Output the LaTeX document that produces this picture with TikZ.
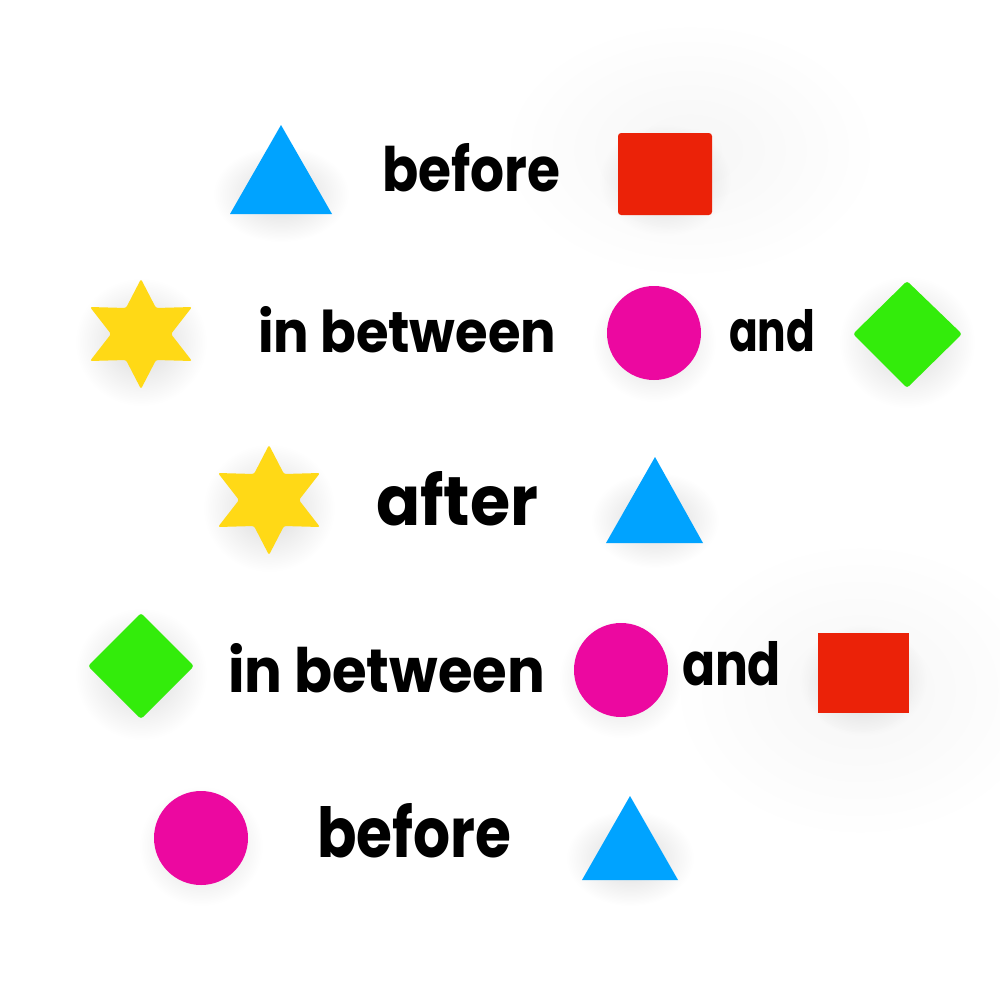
\documentclass[tikz,border=0pt]{standalone}
\usepackage{fontspec}
\usepackage{graphicx}
\setmainfont{Poppins}
\usetikzlibrary{fadings}
\definecolor{cblue}{RGB}{0,163,255}
\definecolor{cred}{RGB}{235,34,8}
\definecolor{cpink}{RGB}{236,8,160}
\definecolor{cyellow}{RGB}{255,217,22}
\definecolor{cgreen}{RGB}{51,236,11}
\tikzfading[name=softfade, inner color=transparent!0, outer color=transparent!100]
\newcommand\fitwh[3]{\resizebox{#1}{#2}{#3}}
\newcommand\sixstar[3]{% cx cy colour
  \fill[#3, rounded corners=0.6pt, shift={(#1,#2)}]
    (0,-55) -- (15,-26) -- (51,-27) -- (30,0) -- (51,27) -- (15,26) --
    (0,55) -- (-15,26) -- (-51,27) -- (-30,0) -- (-51,-27) -- (-15,-26) -- cycle;}
\tikzset{
  txt/.style={inner sep=0pt, outer sep=0pt, anchor=base west, text=black, font=\bfseries},
  shad/.style={black, opacity=0.15, path fading=softfade},
  halo/.style={black, opacity=0.035, path fading=softfade},
}
\begin{document}
\begin{tikzpicture}[x=0.01cm, y=-0.01cm]
\useasboundingbox (0,0) rectangle (1000,1000);
\fill[white] (0,0) rectangle (1000,1000);
% large faint halos
\fill[halo] (690,150) ellipse (190 and 130);
\fill[halo] (860,690) ellipse (190 and 150);
% shadows
\fill[shad] (281,194) ellipse (68 and 48);
\fill[shad] (665,180) ellipse (66 and 56);
\fill[shad] (141,342) ellipse (66 and 64);
\fill[shad] (654,342) ellipse (62 and 60);
\fill[shad] (907,342) ellipse (68 and 66);
\fill[shad] (269,508) ellipse (66 and 64);
\fill[shad] (655,520) ellipse (64 and 48);
\fill[shad] (141,674) ellipse (66 and 66);
\fill[shad] (621,678) ellipse (62 and 60);
\fill[shad] (863,680) ellipse (64 and 56);
\fill[shad] (201,846) ellipse (62 and 60);
\fill[shad] (630,858) ellipse (64 and 48);
% row 1
\fill[cblue] (281,125) -- (332,214) -- (230,214) -- cycle;
\fill[cred, rounded corners=0.9pt] (618,133) rectangle (712,215);
\node[txt] (t1) at (382,191) {\fitwh{1.78cm}{0.48cm}{before}};
% row 2
\sixstar{141}{334}{cyellow}
\node[txt] (t2) at (258,352) {\fitwh{2.98cm}{0.46cm}{in between}};
\fill[cpink] (654,333) circle (47);
\node[txt] (t3) at (729,351) {\fitwh{0.86cm}{0.42cm}{and}};
\fill[cgreen, rounded corners=0.8pt] (907,281) -- (962,334) -- (907,388) -- (853,334) -- cycle;
% row 3
\sixstar{269}{500}{cyellow}
\node[txt] (t4) at (376,525) {\fitwh{1.62cm}{0.54cm}{after}};
\fill[cblue] (655,457) -- (703,543) -- (606,543) -- cycle;
% row 4
\fill[cgreen, rounded corners=0.8pt] (141,613) -- (194,666) -- (141,719) -- (88,666) -- cycle;
\node[txt] (t5) at (228,692) {\fitwh{3.17cm}{0.49cm}{in between}};
\fill[cpink] (621,670) circle (47);
\node[txt] (t6) at (682,685) {\fitwh{0.99cm}{0.44cm}{and}};
\fill[cred] (818,633) rectangle (909,713);
% row 5
\fill[cpink] (201,838) circle (47);
\node[txt] (t7) at (317,857) {\fitwh{1.94cm}{0.54cm}{before}};
\fill[cblue] (630,796) -- (678,880) -- (582,880) -- cycle;
\end{tikzpicture}
\end{document}
